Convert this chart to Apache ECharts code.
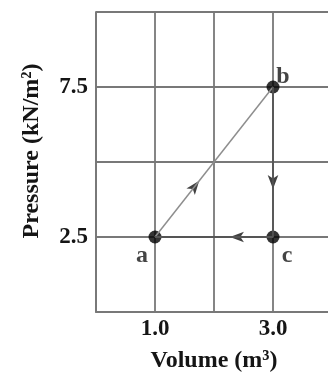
<!DOCTYPE html>
<html><head><meta charset="utf-8">
<script src="https://cdn.jsdelivr.net/npm/echarts@6/dist/echarts.min.js"></script>
<style>html,body{margin:0;padding:0;background:#fff}#c{width:328px;height:373px}</style>
</head><body><div id="c"></div>
<script>
// Data
const volumes = [1.0, 3.0, 3.0];
const pressures = [2.5, 7.5, 2.5];
const pointNames = ['a', 'b', 'c'];
const cycleOrder = [0, 1, 2, 0]; // a -> b -> c -> a
const arrowVolumes = [1.75, 3.0, 2.27];
const arrowPressures = [4.375, 4.1, 2.5];
const arrowDirs = [-38, 180, 90];
const xTickLabels = ['1.0', '3.0'];
const yTickLabels = ['2.5', '7.5'];

const serif = '"Liberation Serif","Times New Roman",serif';
const gridColor = '#787878';
const labelOffsets = [[-13, 19], [10, -10], [14, 19]];

const chart = echarts.init(document.getElementById('c'), null, {renderer: 'canvas'});
chart.setOption({
  animation: false,
  backgroundColor: '#fff',
  grid: {left: 96, top: 12, right: -4, bottom: 61, outerBoundsMode: 'none', containLabel: false},
  xAxis: {
    type: 'value', min: 0, max: 4, interval: 1,
    name: 'Volume (m³)', nameLocation: 'middle', nameGap: 37,
    nameTextStyle: {fontFamily: serif, fontSize: 24, fontWeight: 'bold', color: '#151515'},
    axisLine: {show: true, lineStyle: {color: gridColor, width: 1.8}},
    axisTick: {show: false},
    splitLine: {show: true, lineStyle: {color: gridColor, width: 1.8}},
    axisLabel: {
      fontFamily: serif, fontSize: 23, fontWeight: 'bold', color: '#151515', margin: 6,
      formatter: v => { const s = v.toFixed(1); return xTickLabels.includes(s) ? s : ''; }
    }
  },
  yAxis: {
    type: 'value', min: 0, max: 10, interval: 2.5,
    name: 'Pressure (kN/m²)', nameLocation: 'middle', nameGap: 52,
    nameTextStyle: {fontFamily: serif, fontSize: 24, fontWeight: 'bold', color: '#151515', padding: [0, 0, 0, 22]},
    axisLine: {show: true, lineStyle: {color: gridColor, width: 1.8}},
    axisTick: {show: false},
    splitLine: {show: true, lineStyle: {color: gridColor, width: 1.8}},
    axisLabel: {
      fontFamily: serif, fontSize: 23, fontWeight: 'bold', color: '#151515', margin: 8,
      formatter: v => { const s = v.toFixed(1); return yTickLabels.includes(s) ? s : ''; }
    }
  },
  series: [
    {
      type: 'line', symbol: 'none', silent: true,
      data: [[volumes[0], pressures[0]], [volumes[1], pressures[1]]],
      lineStyle: {color: '#8e8e8e', width: 1.5}
    },
    {
      type: 'line', symbol: 'none', silent: true,
      data: cycleOrder.slice(1).map(i => [volumes[i], pressures[i]]),
      lineStyle: {color: '#555', width: 1.8}
    },
    {
      type: 'scatter', symbol: 'arrow',
      data: arrowVolumes.map((v, i) => ({value: [v, arrowPressures[i]], symbolRotate: arrowDirs[i]})),
      symbolSize: [8, 14],
      itemStyle: {color: '#111'}
    },
    {
      type: 'scatter', symbol: 'circle', symbolSize: 13,
      itemStyle: {color: '#000'},
      data: volumes.map((v, i) => ({
        value: [v, pressures[i]],
        label: {show: true, formatter: pointNames[i], position: 'inside', offset: labelOffsets[i],
          fontFamily: serif, fontSize: 24, fontWeight: 'bold', color: '#151515'}
      }))
    }
  ]
});
</script></body></html>
